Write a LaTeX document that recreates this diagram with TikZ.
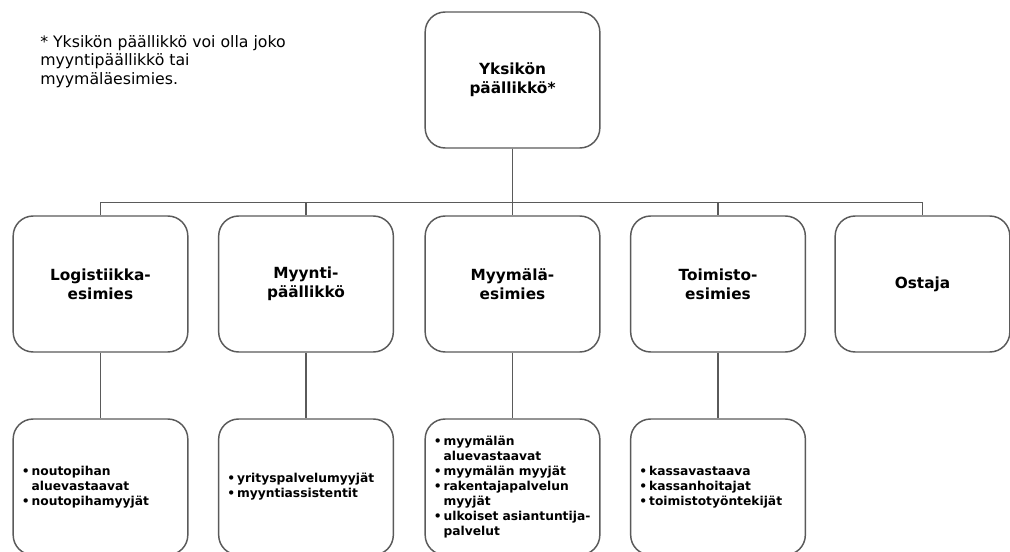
\documentclass[tikz,border=0pt]{standalone}
\usepackage{fontspec}
\setmainfont{DejaVu Sans}
\usetikzlibrary{positioning}
\definecolor{linegray}{HTML}{5A5A5A}
\newcommand{\itm}{\makebox[0.8em][l]{\textbullet}}
\newcommand{\ind}{\hspace*{0.8em}}

\begin{document}
\begin{tikzpicture}[x=0.75pt, y=-0.75pt,
  box/.style={draw=linegray, line width=1.1pt, rounded corners=15pt, fill=white,
    minimum width=131pt, minimum height=102pt, align=center,
    font=\fontsize{11.5}{14.25}\selectfont\bfseries},
  subbox/.style={box, align=left, text width=118pt, inner xsep=6.5pt,
    font=\fontsize{9.2}{11.25}\selectfont\bfseries},
  link/.style={draw=linegray, line width=1.1pt}]
  \useasboundingbox (0,0) rectangle (1010,552);
  \clip (0,0) rectangle (1010,552);

  % note
  \node[anchor=north west, align=left, inner sep=0pt,
    font=\fontsize{11.8}{13.9}\selectfont] (note) at (40,35)
    {* Yksikön päällikkö voi olla joko\\myyntipäällikkö tai\\myymäläesimies.};

  % top
  \node[box] (head) at (512.5,80) {Yksikön\\päällikkö*};

  % middle row
  \node[box] (logi) at (100.5,284) {Logistiikka-\\esimies};
  \node[box] (sales) at (306,284) {Myynti-\\päällikkö};
  \node[box] (store) at (512.5,284) {Myymälä-\\esimies};
  \node[box] (office) at (718,284) {Toimisto-\\esimies};
  \node[box] (buyer) at (922.5,284) {Ostaja};

  % bottom row
  \node[subbox] (logisub) at (100.5,487)
    {\itm noutopihan\\\ind aluevastaavat\\\itm noutopihamyyjät};
  \node[subbox] (salessub) at (306,487)
    {\itm yrityspalvelumyyjät\\\itm myyntiassistentit};
  \node[subbox, inner xsep=4.5pt] (storesub) at (512.5,487)
    {\itm myymälän\\\ind aluevastaavat\\\itm myymälän myyjät\\\itm rakentajapalvelun\\\ind myyjät\\\mbox{\itm ulkoiset asiantuntija-}\\\ind palvelut};
  \node[subbox, inner xsep=5.5pt] (officesub) at (718,487)
    {\itm kassavastaava\\\itm kassanhoitajat\\\itm toimistotyöntekijät};

  % connectors
  \foreach \n in {logi,sales,store,office,buyer}
    \draw[link] (head.south) -- ++(0,54) -| (\n.north);
  \foreach \n in {logi,sales,store,office}
    \draw[link] (\n.south) -- (\n sub.north);
\end{tikzpicture}
\end{document}
